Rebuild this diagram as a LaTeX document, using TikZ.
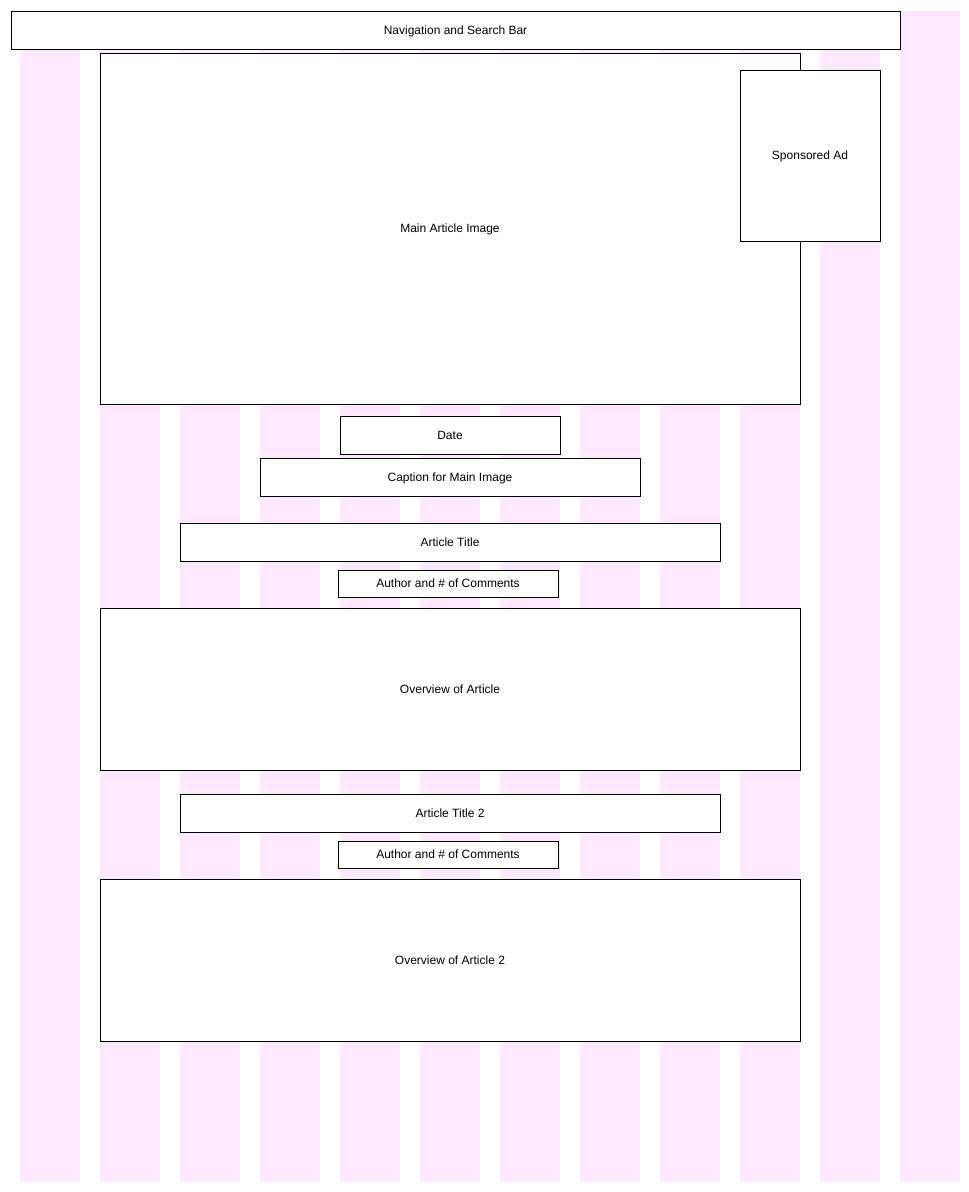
\documentclass[tikz,border=0pt]{standalone}
\usepackage{fontspec}
\setmainfont{Liberation Sans}
\definecolor{colpink}{RGB}{253,233,253}
\tikzset{
  wbox/.style={draw=black, fill=white, line width=0.75pt, inner sep=0pt, text height=6.5pt, text depth=0pt, font=\fontsize{9}{11}\selectfont},
}
\begin{document}
\begin{tikzpicture}[x=0.75pt, y=-0.75pt]
\useasboundingbox (0,0) rectangle (969,1192);
\foreach \i in {0,...,11} {
  \fill[colpink] ({20+80*\i},11) rectangle ({80+80*\i},1182);
}
\node[wbox, minimum width=666.75pt, minimum height=28.5pt] (nav) at (455.5,30) {Navigation and Search Bar};
\node[wbox, minimum width=525pt, minimum height=263.25pt] (img) at (450,228.5) {Main Article Image};
\node[wbox, minimum width=105pt, minimum height=128.25pt] (ad) at (810,155.5) {Sponsored Ad};
\node[wbox, minimum width=165pt, minimum height=28.5pt] (date) at (450,435) {Date};
\node[wbox, minimum width=285pt, minimum height=28.5pt] (cap) at (450,477) {Caption for Main Image};
\node[wbox, minimum width=405pt, minimum height=28.5pt] (title) at (450,542) {Article Title};
\node[wbox, minimum width=165pt, minimum height=20.25pt] (auth) at (448,583.5) {Author and \# of Comments};
\node[wbox, minimum width=525pt, minimum height=121.5pt] (over) at (450,689) {Overview of Article};
\node[wbox, minimum width=405pt, minimum height=28.5pt] (title2) at (450,813) {Article Title 2};
\node[wbox, minimum width=165pt, minimum height=20.25pt] (auth2) at (448,854.5) {Author and \# of Comments};
\node[wbox, minimum width=525pt, minimum height=121.5pt] (over2) at (450,960) {Overview of Article 2};
\end{tikzpicture}
\end{document}
